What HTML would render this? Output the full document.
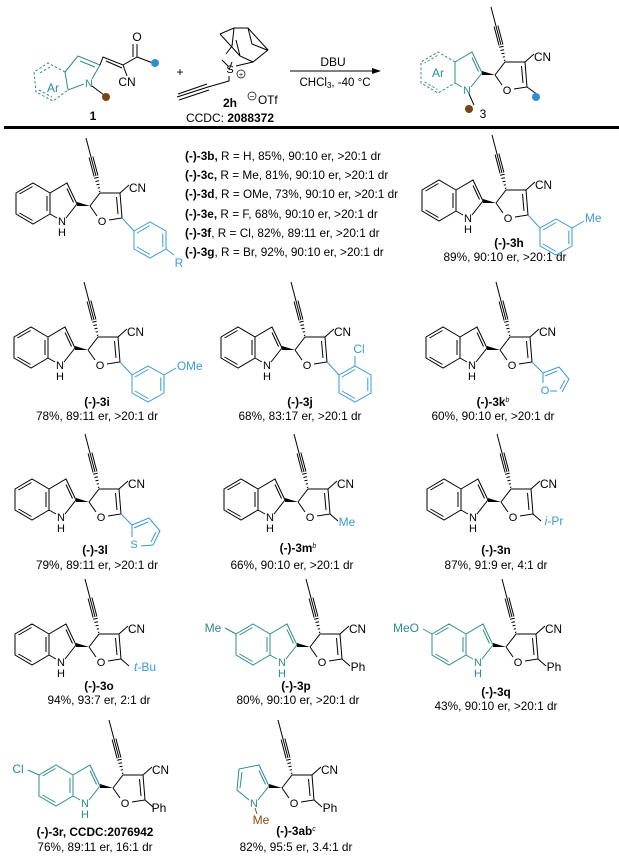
<!DOCTYPE html>
<html><head><meta charset="utf-8"><style>
html,body{margin:0;padding:0;background:#fff;}
svg{display:block;font-family:"Liberation Sans",Arial,sans-serif;}
.a{font-size:11px;text-anchor:middle;}
.l{font-size:11.8px;}
.c{font-size:11.8px;text-anchor:middle;}
.b{font-weight:bold;}
.bl{fill:#3a9ad9;}
.tl{fill:#2c8c8c;}
.br{fill:#8a4b12;}
</style></head><body>
<svg width="619" height="861" viewBox="0 0 619 861" xmlns="http://www.w3.org/2000/svg">
<defs>
<g id="fur" fill="none" stroke-width="1">
<path d="M-12,-15L-2,-28L18,-28L20,-3L7,-1M-5,-5L-12,-15M14.5,-24L16,-7M18,-28L27,-36M-11,-64L-16,-83M-6,-45L-11,-64M-4.1,-45.5L-9.1,-64.5M-7.9,-44.5L-12.9,-63.5"/>
<path d="M-3.1,-29.5L-1.7,-29.9M-4.3,-32.8L-2.1,-33.4M-5.5,-36.2L-2.5,-36.8M-6.6,-39.5L-3,-40.3M-7.8,-42.8L-3.4,-43.8"/>
</g>
<polygon id="wedge" points="-12,-15 -25,-19 -25,-15" fill="#000"/>
<g id="ind" fill="none" stroke-width="1">
<path d="M-25,-17L-35,-38L-52,-28L-52,-7L-45,-3M-36,-3L-25,-17M-28.5,-18.5L-35,-32.5M-52,-28L-69,-38L-86,-28L-86,-7L-69,3L-52,-7M-55,-25L-55,-10M-69.5,-34.5L-82.5,-27M-82.5,-8L-69.5,-0.5"/>
</g>
<g id="ph" fill="none" stroke-width="1">
<path d="M20,-3L32,10"/>
<path d="M32,10L48,1L64,10L64,28L48,37L32,28Z"/>
<path d="M35,12L48,4.5M60.8,12.5L60.8,26M48,33.5L35,26"/>
</g>
</defs>

<!-- ===== HEADER ===== -->
<g stroke="#000" fill="none" stroke-width="1">
<path stroke="#2c8c8c" d="M65,72L78,56L100,65L92,79M84,84L68,90L65,72M80,61L95,67"/>
<path stroke="#2c8c8c" stroke-dasharray="2.5,2" d="M65,72L48,63L34,72L36,92L53,101L68,90M50,67L38,74M39,90L52,97"/>
<path d="M100,65L103,57L123,65L137,57L137,44M133,57L133,44M106,61L122,68M123,65L127,76M137,57L153,63"/>
<path d="M92,86L104,95"/>
<path d="M220,34L234,28L248,28L268,50L253,62L240,56L220,34M234,28L232,46L226,54M248,28L252,44L267,50M240,56L236,40M232,62L229,70M222,60L228,66M236,66L253,62M229,76L229,81L208,87M208,87L177,97M207,84L178,94M209,90L179,100"/>
</g>
<text x="53" y="92" class="a tl" style="font-size:12px">Ar</text>
<text x="89" y="87" class="a tl">N</text>
<text x="137" y="41" class="a" style="font-size:12px">O</text>
<text x="127" y="86" class="a" style="font-size:12px">CN</text>
<circle cx="155" cy="63" r="4" fill="#2f8fd6"/>
<circle cx="106" cy="97" r="4" fill="#7a4410"/>
<text x="93" y="120" class="a b" style="font-size:12px">1</text>
<text x="180" y="76" class="a" style="font-size:12px">+</text>
<text x="230" y="73" class="a">S</text>
<circle cx="241" cy="74" r="4" fill="none" stroke="#000" stroke-width="0.7"/>
<text x="241" y="77" class="a" style="font-size:7px">+</text>
<text x="230" y="107" class="a b" style="font-size:12px">2h</text>
<circle cx="252" cy="96" r="4" fill="none" stroke="#000" stroke-width="0.7"/>
<text x="252" y="99" class="a" style="font-size:8px">−</text>
<text x="258" y="104" class="l">OTf</text>
<text x="230" y="122" class="a" style="font-size:12px">CCDC: <tspan class="b">2088372</tspan></text>
<line x1="290" y1="71" x2="374" y2="71" stroke="#000" stroke-width="1"/>
<polygon points="381,71 372,68 372,74" fill="#000"/>
<text x="333" y="66" class="a" style="font-size:12px">DBU</text>
<text x="335" y="86" class="a" style="font-size:11.5px">CHCl<tspan style="font-size:8px" dy="2">3</tspan><tspan dy="-2">, -40 °C</tspan></text>
<g transform="translate(507,90)">
<use href="#fur" stroke="#000"/><use href="#wedge"/>
<g stroke="#2c8c8c" fill="none" stroke-width="1">
<path d="M-25,-17L-35,-38L-52,-28L-52,-7L-45,-3M-36,-3L-25,-17M-28.5,-18.5L-35,-32.5"/>
<path stroke-dasharray="2.5,2" d="M-52,-28L-69,-38L-86,-28L-86,-7L-69,3L-52,-7M-69.5,-34.5L-82.5,-27M-82.5,-8L-69.5,-0.5"/>
</g>
<path d="M-38,4L-33,15M20,-3L31,5" stroke="#000" fill="none"/>
<text x="-40" y="4" class="a tl">N</text>
<text x="-69" y="-13" class="a tl" style="font-size:12px">Ar</text>
<text x="0" y="4" class="a">O</text>
<text x="27" y="-29" class="l">CN</text>
<circle cx="-38" cy="19" r="4" fill="#7a4410"/>
<circle cx="29" cy="7" r="4" fill="#2f8fd6"/>
</g>
<text x="483" y="118" class="a" style="font-size:12px">3</text>
<rect x="4" y="126" width="615" height="3" fill="#000"/>

<!-- 3b -->
<g transform="translate(102,221)">
<use href="#fur" stroke="#000"/><use href="#wedge"/><use href="#ind" stroke="#000"/>
<use href="#ph" stroke="#3a9ad9"/>
<path d="M64,28L72,34" stroke="#3a9ad9"/>
<text x="-40" y="4" class="a">N</text><text x="-40" y="15" class="a">H</text>
<text x="0" y="4" class="a">O</text><text x="27" y="-29" class="l">CN</text>
<text x="77" y="46" class="a bl" style="font-size:12px">R</text>
</g>
<g class="l">
<text x="185" y="160"><tspan class="b">(-)-3b,</tspan> R = H, 85%, 90:10 er, &gt;20:1 dr</text>
<text x="185" y="179"><tspan class="b">(-)-3c,</tspan> R = Me, 81%, 90:10 er, &gt;20:1 dr</text>
<text x="185" y="198"><tspan class="b">(-)-3d</tspan>, R = OMe, 73%, 90:10 er, &gt;20:1 dr</text>
<text x="185" y="218"><tspan class="b">(-)-3e,</tspan> R = F, 68%, 90:10 er, &gt;20:1 dr</text>
<text x="185" y="237"><tspan class="b">(-)-3f</tspan>, R = Cl, 82%, 89:11 er, &gt;20:1 dr</text>
<text x="185" y="256"><tspan class="b">(-)-3g</tspan>, R = Br, 92%, 90:10 er, &gt;20:1 dr</text>
</g>

<!-- 3h -->
<g transform="translate(508,218)">
<use href="#fur" stroke="#000"/><use href="#wedge"/><use href="#ind" stroke="#000"/>
<use href="#ph" stroke="#3a9ad9"/>
<path d="M64,10L76,3" stroke="#3a9ad9"/>
<text x="-40" y="4" class="a">N</text><text x="-40" y="15" class="a">H</text>
<text x="0" y="4" class="a">O</text><text x="27" y="-29" class="l">CN</text>
<text x="77" y="4" class="l bl">Me</text>
</g>
<text x="509" y="247" class="c b">(-)-3h</text>
<text x="505" y="261" class="c">89%, 90:10 er, &gt;20:1 dr</text>

<!-- 3i -->
<g transform="translate(100,365)">
<use href="#fur" stroke="#000"/><use href="#wedge"/><use href="#ind" stroke="#000"/>
<use href="#ph" stroke="#3a9ad9"/>
<path d="M64,10L76,3" stroke="#3a9ad9"/>
<text x="-40" y="4" class="a">N</text><text x="-40" y="15" class="a">H</text>
<text x="0" y="4" class="a">O</text><text x="27" y="-29" class="l">CN</text>
<text x="77" y="5" class="l bl">OMe</text>
</g>
<text x="97" y="406" class="c b">(-)-3i</text>
<text x="97" y="420" class="c">78%, 89:11 er, &gt;20:1 dr</text>

<!-- 3j -->
<g transform="translate(307,365)">
<use href="#fur" stroke="#000"/><use href="#wedge"/><use href="#ind" stroke="#000"/>
<use href="#ph" stroke="#3a9ad9"/>
<path d="M48,1L48,-9" stroke="#3a9ad9"/>
<text x="-40" y="4" class="a">N</text><text x="-40" y="15" class="a">H</text>
<text x="0" y="4" class="a">O</text><text x="27" y="-29" class="l">CN</text>
<text x="52" y="-12" class="a bl" style="font-size:12px">Cl</text>
</g>
<text x="300" y="406" class="c b">(-)-3j</text>
<text x="300" y="420" class="c">68%, 83:17 er, &gt;20:1 dr</text>

<!-- 3k -->
<g transform="translate(512,365)">
<use href="#fur" stroke="#000"/><use href="#wedge"/><use href="#ind" stroke="#000"/>
<path d="M20,-3L31,8L47,2L57,14L50,27M31,8L31,18M45,26L38,26M33,11L45,6M53,15L48,24" stroke="#3a9ad9" fill="none"/>
<text x="-40" y="4" class="a">N</text><text x="-40" y="15" class="a">H</text>
<text x="0" y="4" class="a">O</text><text x="27" y="-29" class="l">CN</text>
<text x="33" y="29" class="a bl">O</text>
</g>
<text x="493" y="406" class="c b">(-)-3k<tspan style="font-size:7px;font-style:italic;font-weight:normal" dy="-4">b</tspan></text>
<text x="493" y="420" class="c">60%, 90:10 er, &gt;20:1 dr</text>

<!-- 3l -->
<g transform="translate(101,517)">
<use href="#fur" stroke="#000"/><use href="#wedge"/><use href="#ind" stroke="#000"/>
<path d="M20,-3L31,8L48,1L59,14L52,28L40,29M31,8L31,20M33,11L47,5M55,15L50,25" stroke="#3a9ad9" fill="none"/>
<text x="-40" y="4" class="a">N</text><text x="-40" y="15" class="a">H</text>
<text x="0" y="4" class="a">O</text><text x="27" y="-29" class="l">CN</text>
<text x="33" y="31" class="a bl">S</text>
</g>
<text x="95" y="554" class="c b">(-)-3l</text>
<text x="97" y="569" class="c">79%, 89:11 er, &gt;20:1 dr</text>

<!-- 3m -->
<g transform="translate(310,517)">
<use href="#fur" stroke="#000"/><use href="#wedge"/><use href="#ind" stroke="#000"/>
<path d="M20,-3L28,4" stroke="#000"/>
<text x="-40" y="4" class="a">N</text><text x="-40" y="15" class="a">H</text>
<text x="0" y="4" class="a">O</text><text x="27" y="-29" class="l">CN</text>
<text x="37" y="9" class="a bl" style="font-size:12px">Me</text>
</g>
<text x="298" y="552" class="c b">(-)-3m<tspan style="font-size:7px;font-style:italic;font-weight:normal" dy="-4">b</tspan></text>
<text x="292" y="569" class="c">66%, 90:10 er, &gt;20:1 dr</text>

<!-- 3n -->
<g transform="translate(513,517)">
<use href="#fur" stroke="#000"/><use href="#wedge"/><use href="#ind" stroke="#000"/>
<path d="M20,-3L28,4" stroke="#000"/>
<text x="-40" y="4" class="a">N</text><text x="-40" y="15" class="a">H</text>
<text x="0" y="4" class="a">O</text><text x="27" y="-29" class="l">CN</text>
<text x="41" y="8" class="a bl" style="font-size:12px"><tspan font-style="italic">i</tspan>-Pr</text>
</g>
<text x="496" y="554" class="c b">(-)-3n</text>
<text x="496" y="569" class="c">87%, 91:9 er, 4:1 dr</text>

<!-- 3o -->
<g transform="translate(101,662)">
<use href="#fur" stroke="#000"/><use href="#wedge"/><use href="#ind" stroke="#000"/>
<path d="M20,-3L28,4" stroke="#000"/>
<text x="-40" y="4" class="a">N</text><text x="-40" y="15" class="a">H</text>
<text x="0" y="4" class="a">O</text><text x="27" y="-29" class="l">CN</text>
<text x="44" y="9" class="a bl" style="font-size:12px"><tspan font-style="italic">t</tspan>-Bu</text>
</g>
<text x="99" y="690" class="c b">(-)-3o</text>
<text x="99" y="704" class="c">94%, 93:7 er, 2:1 dr</text>

<!-- 3p -->
<g transform="translate(322,662)">
<use href="#fur" stroke="#000"/><use href="#wedge"/><use href="#ind" stroke="#2c8c8c"/>
<path d="M-86,-28L-97,-34" stroke="#2c8c8c"/>
<path d="M20,-3L28,4" stroke="#000"/>
<text x="-40" y="4" class="a tl">N</text><text x="-40" y="15" class="a tl">H</text>
<text x="0" y="4" class="a">O</text><text x="27" y="-29" class="l">CN</text>
<text x="-109" y="-30" class="a tl" style="font-size:12px">Me</text>
<text x="36" y="9" class="a" style="font-size:12px">Ph</text>
</g>
<text x="296" y="690" class="c b">(-)-3p</text>
<text x="298" y="704" class="c">80%, 90:10 er, &gt;20:1 dr</text>

<!-- 3q -->
<g transform="translate(518,662)">
<use href="#fur" stroke="#000"/><use href="#wedge"/><use href="#ind" stroke="#2c8c8c"/>
<path d="M-86,-28L-95,-33" stroke="#2c8c8c"/>
<path d="M20,-3L28,4" stroke="#000"/>
<text x="-40" y="4" class="a tl">N</text><text x="-40" y="15" class="a tl">H</text>
<text x="0" y="4" class="a">O</text><text x="27" y="-29" class="l">CN</text>
<text x="-112" y="-30" class="a tl" style="font-size:12px">MeO</text>
<text x="36" y="9" class="a" style="font-size:12px">Ph</text>
</g>
<text x="496" y="696" class="c b">(-)-3q</text>
<text x="496" y="710" class="c">43%, 90:10 er, &gt;20:1 dr</text>

<!-- 3r -->
<g transform="translate(125,803)">
<use href="#fur" stroke="#000"/><use href="#wedge"/><use href="#ind" stroke="#2c8c8c"/>
<path d="M-86,-28L-97,-33" stroke="#2c8c8c"/>
<path d="M20,-3L28,4" stroke="#000"/>
<text x="-40" y="4" class="a tl">N</text><text x="-40" y="15" class="a tl">H</text>
<text x="0" y="4" class="a">O</text><text x="27" y="-29" class="l">CN</text>
<text x="-107" y="-30" class="a tl" style="font-size:12px">Cl</text>
<text x="34" y="9" class="a" style="font-size:12px">Ph</text>
</g>
<text x="95" y="836" class="c b">(-)-3r, CCDC:2076942</text>
<text x="95" y="851" class="c">76%, 89:11 er, 16:1 dr</text>

<!-- 3ab -->
<g transform="translate(294,803)">
<use href="#fur" stroke="#000"/><use href="#wedge"/>
<path d="M-25,-17L-35,-38L-55,-34L-57,-13L-45,-3M-36,-3L-25,-17M-28.5,-18.5L-35,-32.5M-52,-31L-54,-15" stroke="#2c8c8c" fill="none"/>
<path d="M-39,5L-37,11" stroke="#8a4b12"/>
<path d="M20,-3L28,4" stroke="#000"/>
<text x="-40" y="4" class="a tl">N</text>
<text x="-33" y="21" class="a br" style="font-size:12px">Me</text>
<text x="0" y="4" class="a">O</text><text x="27" y="-29" class="l">CN</text>
<text x="36" y="9" class="a" style="font-size:12px">Ph</text>
</g>
<text x="296" y="835" class="c b">(-)-3ab<tspan style="font-size:7px;font-style:italic;font-weight:normal" dy="-4">c</tspan></text>
<text x="296" y="851" class="c">82%, 95:5 er, 3.4:1 dr</text>
</svg>
</body></html>
